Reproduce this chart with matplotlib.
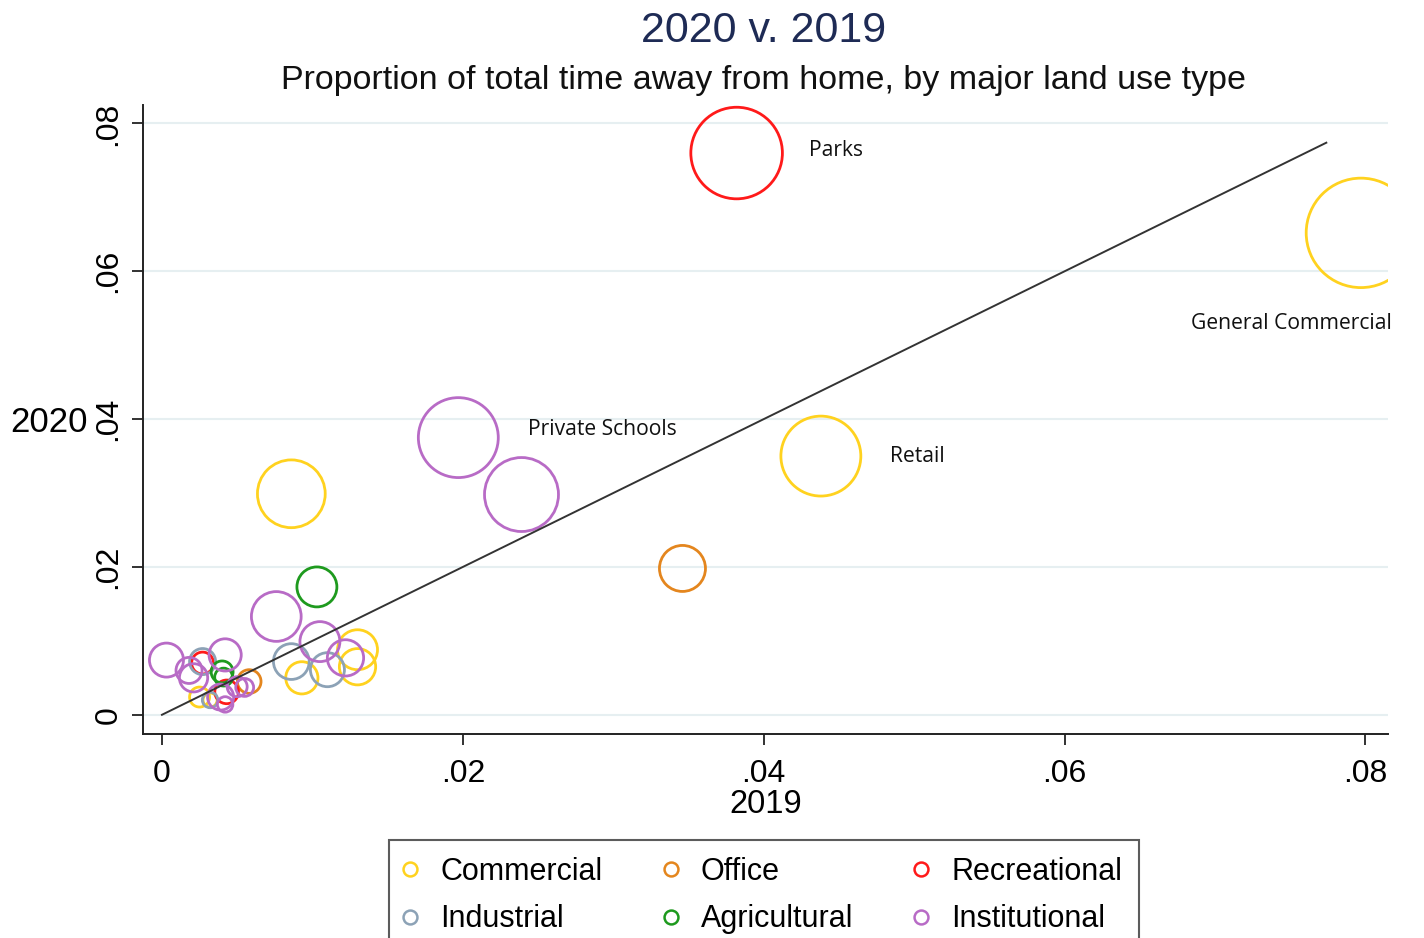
import matplotlib
matplotlib.use("Agg")
import matplotlib.pyplot as plt
from matplotlib.lines import Line2D

# ---------------- data ----------------
categories = ["Commercial", "Industrial", "Office", "Agricultural", "Recreational", "Institutional"]
colors = {
    "Commercial": "#FFD21F",
    "Office": "#E4861E",
    "Recreational": "#FF1A1A",
    "Industrial": "#8CA2B6",
    "Agricultural": "#1E9A1E",
    "Institutional": "#B86BC6",
}

# x = share in 2019, y = share in 2020, w = bubble weight
commercial_x = [0.0797, 0.0438, 0.0086, 0.0130, 0.0130, 0.0093, 0.0025, 0.0032]
commercial_y = [0.0652, 0.0350, 0.0299, 0.0088, 0.0065, 0.0050, 0.0024, 0.0020]
commercial_w = [30.0, 16.0, 11.5, 4.0, 3.3, 2.6, 1.0, 0.5]

office_x = [0.0346, 0.0058]
office_y = [0.0198, 0.0045]
office_w = [5.3, 1.4]

recreational_x = [0.0382, 0.0027, 0.0043]
recreational_y = [0.0760, 0.0070, 0.0031]
recreational_w = [21.0, 1.2, 1.4]

industrial_x = [0.0086, 0.0110, 0.0027, 0.0032]
industrial_y = [0.0072, 0.0061, 0.0072, 0.0020]
industrial_w = [3.2, 2.9, 1.7, 0.6]

agricultural_x = [0.0103, 0.0040, 0.0041]
agricultural_y = [0.0173, 0.0058, 0.0051]
agricultural_w = [4.0, 1.2, 0.8]

institutional_x = [0.0197, 0.0239, 0.0076, 0.0105, 0.0122, 0.0003, 0.0042, 0.0018,
                   0.0021, 0.0055, 0.0039, 0.0042, 0.0050]
institutional_y = [0.0375, 0.0298, 0.0133, 0.0099, 0.0077, 0.0074, 0.0081, 0.0060,
                   0.0050, 0.0037, 0.0024, 0.0014, 0.0038]
institutional_w = [16.0, 13.7, 6.2, 4.0, 3.3, 2.9, 2.6, 1.7,
                   2.0, 0.8, 1.7, 0.6, 1.0]

series = {
    "Commercial": (commercial_x, commercial_y, commercial_w),
    "Office": (office_x, office_y, office_w),
    "Recreational": (recreational_x, recreational_y, recreational_w),
    "Industrial": (industrial_x, industrial_y, industrial_w),
    "Agricultural": (agricultural_x, agricultural_y, agricultural_w),
    "Institutional": (institutional_x, institutional_y, institutional_w),
}

labels_text = ["Parks", "General Commercial", "Private Schools", "Retail"]
labels_x = [0.0382, 0.0797, 0.0197, 0.0438]
labels_y = [0.0760, 0.0652, 0.0375, 0.0350]

ref_line_x = [0.0, 0.0774]
ref_line_y = [0.0, 0.0774]

xticks = [0, 0.02, 0.04, 0.06, 0.08]
xticklabels = ["0", ".02", ".04", ".06", ".08"]
yticks = [0, 0.02, 0.04, 0.06, 0.08]
yticklabels = ["0", ".02", ".04", ".06", ".08"]

# ---------------- figure ----------------
plt.rcParams["font.family"] = ["Liberation Sans", "DejaVu Sans"]
W, H = 1424, 938
fig = plt.figure(figsize=(W / 100, H / 100), dpi=100)
ax = fig.add_axes([143 / W, 1 - 734 / H, (1388 - 143) / W, (734 - 105) / H])

ax.set_xlim(-0.00126, 0.0815)
ax.set_ylim(-0.0026, 0.0825)

for sp in ["top", "right"]:
    ax.spines[sp].set_visible(False)
for sp in ["left", "bottom"]:
    ax.spines[sp].set_linewidth(1.4)
    ax.spines[sp].set_color("#222222")

ax.set_yticks(yticks)
ax.set_xticks(xticks)
ax.set_xticklabels(xticklabels, fontsize=23)
ax.set_yticklabels(yticklabels, fontsize=23, rotation=90, va="center")
ax.tick_params(axis="x", direction="out", length=8, width=1.3, color="#222222", pad=10)
ax.tick_params(axis="y", direction="out", length=8, width=1.3, color="#222222", pad=6)
ax.grid(axis="y", color="#E6EFF1", linewidth=1.5)
ax.set_axisbelow(True)

S = 207.0
for cat in ["Commercial", "Office", "Recreational", "Industrial", "Agricultural", "Institutional"]:
    xs, ys, ws = series[cat]
    ax.scatter(xs, ys, s=[S * w for w in ws], facecolors="none",
               edgecolors=colors[cat], linewidths=2.0, zorder=3)

ax.plot(ref_line_x, ref_line_y, color="#333333", linewidth=1.4, zorder=4)

# annotations (offsets in points)
offsets = [(52, 1.5), (-122, -65.5), (50, 5.5), (50, -0.5)]
for t, x, y, off in zip(labels_text, labels_x, labels_y, offsets):
    ax.annotate(t, (x, y), xytext=off, textcoords="offset points",
                fontsize=15.2, family=["Open Sans", "DejaVu Sans"], va="center", ha="left",
                color="#111111")

ax.set_xlabel("2019", fontsize=23.5, labelpad=0)
ax.set_ylabel("2020", fontsize=25, rotation=0, ha="right", va="center")
ax.yaxis.set_label_coords(-0.044, 0.496)

fig.text(0.5365, 1 - 31 / H, "2020 v. 2019", ha="center", va="center",
         fontsize=31, color="#1E2B55")
fig.text(0.5365, 1 - 81 / H, "Proportion of total time away from home, by major land use type",
         ha="center", va="center", fontsize=24.5, color="#111111")

handles = [Line2D([], [], marker="o", linestyle="none", markersize=10,
                  markerfacecolor="none", markeredgecolor=colors[c], markeredgewidth=1.8)
           for c in categories]
leg = fig.legend(handles, categories, loc="upper left",
                 bbox_to_anchor=(389 / W, 1 - 840 / H), bbox_transform=fig.transFigure,
                 ncol=3, fontsize=22, frameon=True, fancybox=False, borderaxespad=0,
                 handlelength=0.3, handletextpad=0.83, columnspacing=2.08,
                 borderpad=0.55, labelspacing=0.57)
leg.get_frame().set_edgecolor("#333333")
leg.get_frame().set_linewidth(1.5)

fig.savefig("out.png", dpi=100)
